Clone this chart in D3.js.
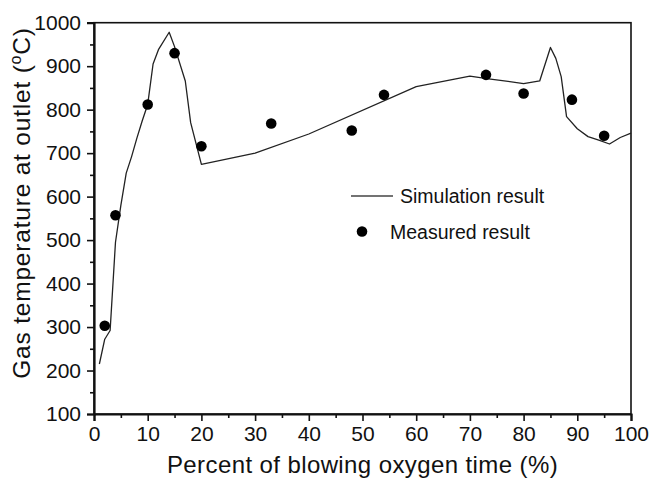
<!DOCTYPE html>
<html>
<head>
<meta charset="utf-8">
<script src="https://d3js.org/d3.v7.min.js"></script>
<style>
  body { margin: 0; background: #fff; }
  svg text { font-family: Arial, "Liberation Sans", sans-serif; fill: #111; }
</style>
</head>
<body>
<svg id="chart" width="649" height="481"></svg>
<script>
// simulation curve
var simX = [1, 2, 3, 4, 5, 6, 7, 8, 9, 10, 11, 12, 14, 15, 17, 18, 20, 30, 40, 60, 70, 73.5, 80, 83, 85, 86, 87, 88, 90, 92, 94, 96, 98, 100];
var simY = [215, 272, 292, 495, 580, 654, 692, 735, 775, 812, 905, 938, 978, 945, 866, 770, 674, 700, 744, 853, 877, 871, 860, 866, 943, 918, 876, 784, 756, 738, 730, 721, 736, 746];

// measured points
var measX = [2, 4, 10, 15, 20, 33, 48, 54, 73, 80, 89, 95];
var measY = [303, 557, 812, 930, 716, 768, 752, 834, 880, 837, 823, 740];

var xTicks = [0, 10, 20, 30, 40, 50, 60, 70, 80, 90, 100];
var yTicks = [100, 200, 300, 400, 500, 600, 700, 800, 900, 1000];

var svg = d3.select("#chart");

var plotL = 94, plotR = 631, plotT = 22.7, plotB = 414;

var x = d3.scaleLinear().domain([0, 100]).range([plotL, plotR]);
var y = d3.scaleLinear().domain([100, 1000]).range([plotB, plotT]);

// frame
svg.append("rect")
    .attr("x", plotL).attr("y", plotT)
    .attr("width", plotR - plotL).attr("height", plotB - plotT)
    .attr("fill", "none").attr("stroke", "#111").attr("stroke-width", 1.6);

// x axis with minor ticks
svg.append("g")
    .attr("transform", "translate(0," + plotB + ")")
    .call(d3.axisBottom(x).tickValues(d3.range(5, 100, 10)).tickSize(4).tickFormat(""))
    .call(function(g) { g.select(".domain").remove(); })
    .selectAll("line").attr("stroke", "#111").attr("stroke-width", 1.6);

var xAxis = svg.append("g")
    .attr("transform", "translate(0," + plotB + ")")
    .call(d3.axisBottom(x).tickValues(xTicks).tickSize(7).tickPadding(5).tickFormat(d3.format("d")));
xAxis.select(".domain").attr("stroke", "#111").attr("stroke-width", 2.2);
xAxis.selectAll("line").attr("stroke", "#111").attr("stroke-width", 1.6);
xAxis.selectAll("text").style("font-size", "21px").attr("fill", "#111");

// y axis with minor ticks
svg.append("g")
    .attr("transform", "translate(" + plotL + ",0)")
    .call(d3.axisLeft(y).tickValues(d3.range(150, 1000, 100)).tickSize(4).tickFormat(""))
    .call(function(g) { g.select(".domain").remove(); })
    .selectAll("line").attr("stroke", "#111").attr("stroke-width", 1.6);

var yAxis = svg.append("g")
    .attr("transform", "translate(" + plotL + ",0)")
    .call(d3.axisLeft(y).tickValues(yTicks).tickSize(7).tickPadding(6).tickFormat(d3.format("d")));
yAxis.select(".domain").attr("stroke", "#111").attr("stroke-width", 2.2);
yAxis.selectAll("line").attr("stroke", "#111").attr("stroke-width", 1.6);
yAxis.selectAll("text").style("font-size", "21px").attr("fill", "#111");

// axis titles
svg.append("text")
    .attr("x", 362.5).attr("y", 473)
    .attr("text-anchor", "middle")
    .style("font-size", "24px")
    .style("letter-spacing", "0.4px")
    .text("Percent of blowing oxygen time (%)");

var yt = svg.append("text")
    .attr("transform", "translate(30,203) rotate(-90)")
    .attr("text-anchor", "middle")
    .style("font-size", "24.5px")
    .style("letter-spacing", "0.8px");
yt.append("tspan").text("Gas temperature at outlet (");
yt.append("tspan").attr("dy", -9).style("font-size", "16px").text("o");
yt.append("tspan").attr("dy", 9).text("C)");

// simulation line
var simData = simX.map(function(d, i) { return [d, simY[i]]; });
svg.append("path")
    .datum(simData)
    .attr("fill", "none")
    .attr("stroke", "#222")
    .attr("stroke-width", 1.3)
    .attr("stroke-linejoin", "round")
    .attr("d", d3.line().x(function(d) { return x(d[0]); }).y(function(d) { return y(d[1]); }));

// measured points
svg.selectAll(".dot")
    .data(measX)
    .enter().append("circle")
    .attr("class", "dot")
    .attr("cx", function(d) { return x(d); })
    .attr("cy", function(d, i) { return y(measY[i]); })
    .attr("r", 5.3)
    .attr("fill", "#000");

// legend
var lg = svg.append("g");
lg.append("line")
    .attr("x1", 351).attr("x2", 393).attr("y1", 196).attr("y2", 196)
    .attr("stroke", "#444").attr("stroke-width", 1.3);
lg.append("text").attr("x", 400).attr("y", 203).style("font-size", "19.5px").text("Simulation result");
lg.append("circle").attr("cx", 362).attr("cy", 231.5).attr("r", 5.3).attr("fill", "#000");
lg.append("text").attr("x", 390).attr("y", 238.5).style("font-size", "19.5px").text("Measured result");
</script>
</body>
</html>
